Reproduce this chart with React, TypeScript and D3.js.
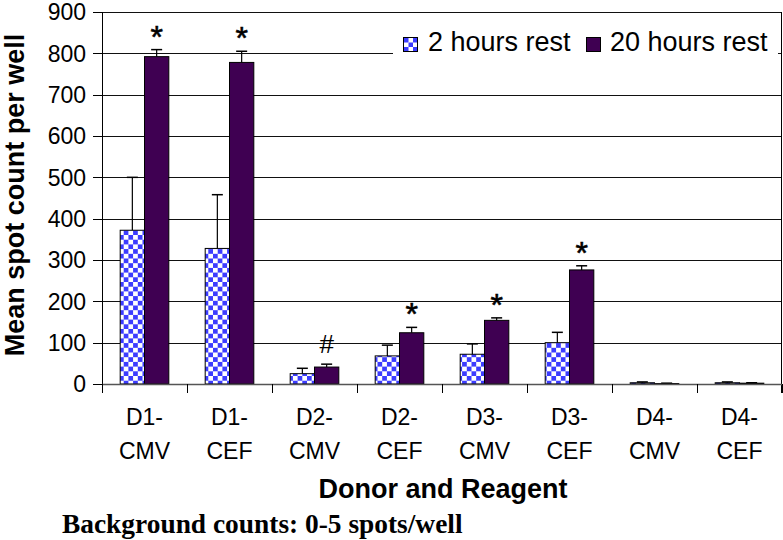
import React, { useEffect } from "react";
import * as d3 from "d3";

const categories = [
  ["D1-", "CMV"],
  ["D1-", "CEF"],
  ["D2-", "CMV"],
  ["D2-", "CEF"],
  ["D3-", "CMV"],
  ["D3-", "CEF"],
  ["D4-", "CMV"],
  ["D4-", "CEF"],
];
const seriesNames = ["2 hours rest", "20 hours rest"];
const rest2h = [372, 328, 25, 68, 72, 100, 3, 3];
const rest2hErr = [128, 130, 13, 26, 25, 25, 2, 2];
const rest20h = [792, 778, 41, 124, 154, 276, 1, 2];
const rest20hErr = [17, 27, 7, 13, 6, 10, 1, 1];
const markers = ["*", "*", "#", "*", "*", "*", "", ""];
const yTicks = [0, 100, 200, 300, 400, 500, 600, 700, 800, 900];

const W = 783;
const H = 540;
const FONT = "'Liberation Sans', Arial, Helvetica, sans-serif";
const BLUE = "#3c3cff";
const PURPLE = "#3f0052";

export default function App() {
  useEffect(() => {
    document.body.style.margin = "0";
  }, []);

  const x0 = d3
    .scaleBand<number>()
    .domain(d3.range(categories.length))
    .range([102, 782])
    .paddingInner(0.428)
    .paddingOuter(0.214);
  const x1 = d3.scaleBand<number>().domain([0, 1]).range([0, x0.bandwidth()]);
  const y = d3.scaleLinear().domain([0, 900]).range([384, 12]);

  const values = [rest2h, rest20h];
  const errs = [rest2hErr, rest20hErr];
  const step = x0.step();
  const left = 102;
  const right = 782;
  const c = 4.7;

  return (
    <svg width={W} height={H} style={{ display: "block" }} xmlns="http://www.w3.org/2000/svg">
      <defs>
        <pattern id="checker" width={2 * c} height={2 * c} patternUnits="userSpaceOnUse" x={119} y={0}>
          <rect x={0} y={0} width={2 * c} height={2 * c} fill="#ffffff" />
          <rect x={0} y={0} width={c} height={c} fill={BLUE} />
          <rect x={c} y={c} width={c} height={c} fill={BLUE} />
        </pattern>
        <pattern id="checkerL" width={9} height={9} patternUnits="userSpaceOnUse" x={404} y={38}>
          <rect x={0} y={0} width={9} height={9} fill="#ffffff" />
          <rect x={0} y={0} width={4.5} height={4.5} fill={BLUE} />
          <rect x={4.5} y={4.5} width={4.5} height={4.5} fill={BLUE} />
        </pattern>
      </defs>
      <rect x={0} y={0} width={W} height={H} fill="#ffffff" />

      {/* gridlines */}
      {yTicks.map((t) => (
        <line
          key={"g" + t}
          x1={left}
          x2={right}
          y1={Math.round(y(t)) + 0.5}
          y2={Math.round(y(t)) + 0.5}
          stroke="#111"
          strokeWidth={1.2}
        />
      ))}

      {/* legend */}
      <rect x={393} y={22} width={385} height={40} fill="#ffffff" />
      <rect x={403.5} y={37.5} width={14} height={14} fill="url(#checkerL)" stroke="#000" strokeWidth={1} />
      <text x={428} y={51} fontFamily={FONT} fontSize={27} fill="#000">
        {seriesNames[0]}
      </text>
      <rect x={586.5} y={37.5} width={14} height={14} fill={PURPLE} stroke="#000" strokeWidth={1} />
      <text x={610} y={51} fontFamily={FONT} fontSize={27} fill="#000">
        {seriesNames[1]}
      </text>

      {/* bars */}
      {categories.map((_, i) => (
        <g key={"c" + i}>
          {[0, 1].map((s) => {
            const v = values[s][i];
            const bx = (x0(i) as number) + (x1(s) as number);
            const bw = x1.bandwidth();
            const top = y(v);
            const eTop = y(v + errs[s][i]);
            const cx = bx + bw / 2;
            return (
              <g key={"b" + s}>
                <rect
                  x={bx}
                  y={top}
                  width={bw}
                  height={y(0) - top}
                  fill={s === 0 ? "url(#checker)" : PURPLE}
                  stroke="#000"
                  strokeWidth={1}
                />
                <line x1={cx} x2={cx} y1={top} y2={eTop} stroke="#000" strokeWidth={1.2} />
                <line x1={cx - 5.5} x2={cx + 5.5} y1={eTop} y2={eTop} stroke="#000" strokeWidth={1.5} />
              </g>
            );
          })}
        </g>
      ))}

      {/* significance markers */}
      {categories.map((_, i) => {
        const m = markers[i];
        if (!m) return null;
        const cx = (x0(i) as number) + (x1(1) as number) + x1.bandwidth() / 2;
        const eTop = y(rest20h[i] + rest20hErr[i]);
        const base = m === "*" ? eTop - 2 : eTop - 11;
        return (
          <text
            key={"m" + i}
            x={cx}
            y={base}
            textAnchor="middle"
            fontFamily={FONT}
            fontSize={m === "*" ? 32 : 26}
            fill="#000"
            stroke="#000"
            strokeWidth={m === "*" ? 0.6 : 0}
          >
            {m}
          </text>
        );
      })}

      {/* y axis */}
      <line x1={left + 0.5} x2={left + 0.5} y1={12} y2={384} stroke="#000" strokeWidth={1} />
      {yTicks.map((t) => (
        <g key={"yt" + t}>
          <line
            x1={93}
            x2={left}
            y1={Math.round(y(t)) + 0.5}
            y2={Math.round(y(t)) + 0.5}
            stroke="#000"
            strokeWidth={1}
          />
          <text
            x={86}
            y={y(t)}
            dy="0.36em"
            textAnchor="end"
            fontFamily={FONT}
            fontSize={23}
            fill="#000"
          >
            {t}
          </text>
        </g>
      ))}

      {/* right border */}
      <line x1={right - 0.5} x2={right - 0.5} y1={12} y2={393} stroke="#000" strokeWidth={1} />

      {/* x axis */}
      <line x1={left} x2={right} y1={384.5} y2={384.5} stroke="#555" strokeWidth={1.5} />
      {d3.range(categories.length + 1).map((k) => (
        <line
          key={"xt" + k}
          x1={Math.round(left + k * step) + 0.5}
          x2={Math.round(left + k * step) + 0.5}
          y1={384}
          y2={393}
          stroke="#000"
          strokeWidth={1}
        />
      ))}
      {categories.map((cat, i) => {
        const cx = (x0(i) as number) + x0.bandwidth() / 2;
        return (
          <g key={"xl" + i}>
            <text x={cx} y={425} textAnchor="middle" fontFamily={FONT} fontSize={23} fill="#000">
              {cat[0]}
            </text>
            <text x={cx} y={459} textAnchor="middle" fontFamily={FONT} fontSize={23} fill="#000">
              {cat[1]}
            </text>
          </g>
        );
      })}

      {/* axis titles */}
      <text
        x={443}
        y={498}
        textAnchor="middle"
        fontFamily={FONT}
        fontWeight="bold"
        fontSize={27}
        fill="#000"
      >
        Donor and Reagent
      </text>
      <text
        transform="translate(24,195) rotate(-90)"
        textAnchor="middle"
        fontFamily={FONT}
        fontWeight="bold"
        fontSize={27}
        fill="#000"
      >
        Mean spot count per well
      </text>
      <text
        x={62}
        y={533}
        fontFamily="'Liberation Serif', 'Times New Roman', serif"
        fontWeight="bold"
        fontSize={27.4}
        fill="#000"
      >
        Background counts: 0-5 spots/well
      </text>
    </svg>
  );
}
